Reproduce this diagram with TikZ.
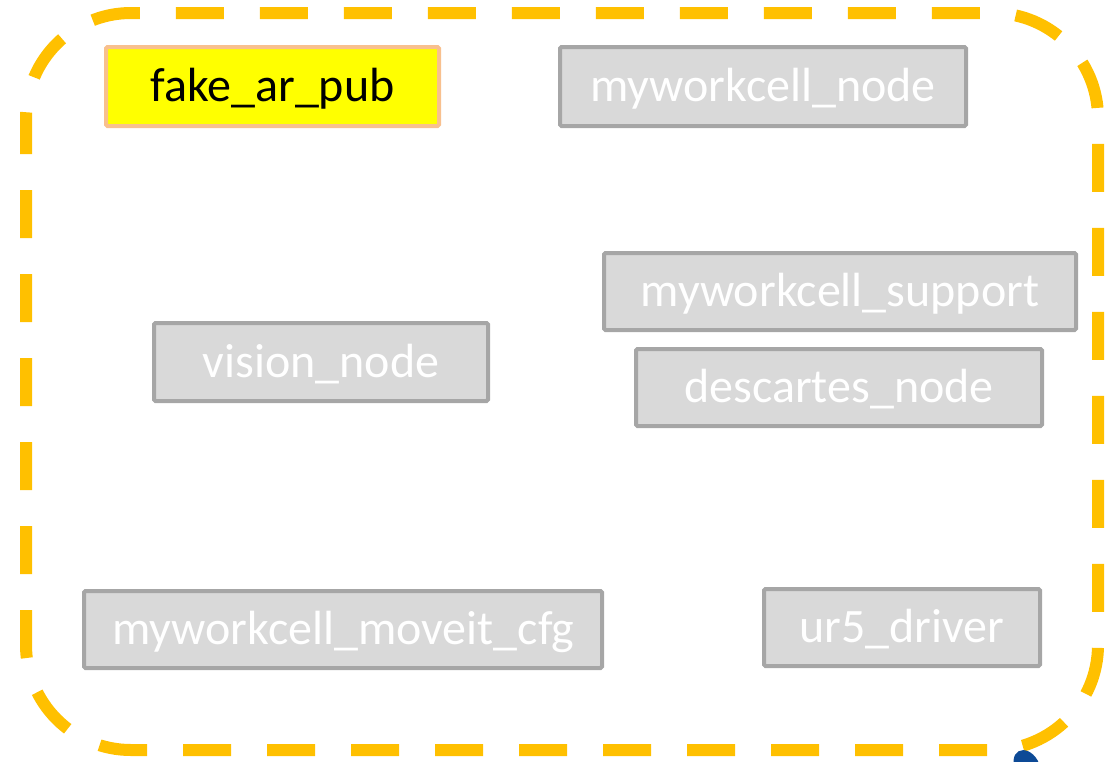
\documentclass[tikz,border=0pt]{standalone}
\usepackage{fontspec}
\setmainfont{Carlito}
\usepackage{xcolor}
\definecolor{frameyellow}{HTML}{FFC000}
\definecolor{boxgray}{HTML}{D9D9D9}
\definecolor{boxline}{HTML}{A6A6A6}
\definecolor{publine}{HTML}{F8C08E}
\definecolor{pubfill}{HTML}{FFFF00}
\definecolor{blobblue}{HTML}{0D4A96}

\begin{document}
\begin{tikzpicture}[x=1pt, y=-1pt,
    pkg/.style={draw=boxline, fill=boxgray, line width=4pt, rounded corners=1.5pt,
      text=white, inner sep=0pt, text height=34pt, text depth=4pt,
      font=\fontsize{48}{56}\selectfont, anchor=center},
    pub/.style={pkg, draw=publine, fill=pubfill, text=black},
    frame/.style={draw=frameyellow, line width=12pt, dash pattern=on 48pt off 36pt,
      dash phase=12pt, rounded corners=105pt}]
\useasboundingbox (0,0) rectangle (1114,761);

\draw[frame] (26,13) rectangle (1098,750);

\node[pub, minimum width=333pt, minimum height=79pt] (fake) at (272.5,86.5) {fake\_ar\_pub};
\node[pkg, minimum width=406pt, minimum height=79pt] (mwnode) at (763,86.5) {myworkcell\_node};

\node[pkg, minimum width=472pt, minimum height=77pt] (support) at (840,291.5) {myworkcell\_support};
\node[pkg, minimum width=406pt, minimum height=77pt] (descartes) at (839,387.5) {descartes\_node};
\node[pkg, minimum width=334pt, minimum height=78pt] (vision) at (321,362) {vision\_node};

\node[pkg, minimum width=518pt, minimum height=77pt] (moveit) at (343,629.5) {myworkcell\_moveit\_cfg};
\node[pkg, minimum width=276pt, minimum height=77pt] (ur5) at (902,627.5) {ur5\_driver};

\fill[blobblue, rotate around={30:(1027,766)}] (1027,766) ellipse (12 and 17);
\end{tikzpicture}
\end{document}
